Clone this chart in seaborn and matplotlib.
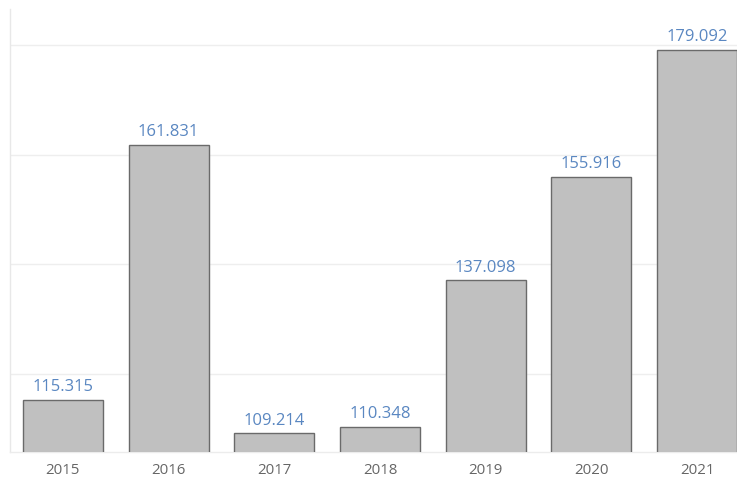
import matplotlib
matplotlib.use("Agg")
import matplotlib.pyplot as plt
import seaborn as sns
import pandas as pd
import numpy as np

years = ["2015", "2016", "2017", "2018", "2019", "2020", "2021"]
values = [115.315, 161.831, 109.214, 110.348, 137.098, 155.916, 179.092]
label_texts = ["115.315", "161.831", "109.214", "110.348", "137.098", "155.916", "179.092"]
y_ticks = [120, 140, 160, 180]

sns.set_style("white")
plt.rcParams['font.family'] = ['Open Sans', 'DejaVu Sans']

df = pd.DataFrame({"year": years, "value": values})

fig = plt.figure(figsize=(7.37, 4.82), dpi=100)
ax_left = 10 / 737
ax_bottom = (482 - 452) / 482
ax_w = (750 - 10) / 737
ax_h = (452 - 9) / 482
ax = fig.add_axes([ax_left, ax_bottom, ax_w, ax_h])

sns.barplot(data=df, x="year", y="value", color="#c0c0c0", saturation=1,
            width=0.757, edgecolor="#6a6a6a", linewidth=1.0, ax=ax, zorder=3)

ax.set_xlim(-0.5, 6.5)
ax.set_ylim(105.84, 186.54)
ax.set_yticks(y_ticks)
ax.set_yticklabels([])
ax.tick_params(axis='y', length=0)
ax.yaxis.grid(True, color="#eeeeee", linewidth=1.0, zorder=0)
ax.set_axisbelow(True)

ax.set_xlabel("")
ax.set_ylabel("")
ax.tick_params(axis='x', which='major', length=0, pad=8, labelsize=10.8, labelcolor="#666666")
ax.set_xticks(np.arange(0.5, 6.5, 1.0), minor=True)
ax.tick_params(axis='x', which='minor', length=6, width=0.8, color="#e6e6e6", direction='out')

for s in ["top", "right"]:
    ax.spines[s].set_visible(False)
ax.spines["left"].set_color("#e8e8e8")
ax.spines["left"].set_linewidth(1.0)
ax.spines["bottom"].set_color("#ececec")
ax.spines["bottom"].set_linewidth(1.0)

for i, (v, t) in enumerate(zip(values, label_texts)):
    ax.annotate(t, (i, v), xytext=(0, 3.5), textcoords="offset points",
                ha="center", va="bottom", fontsize=12, color="#5a87c1", zorder=5)

fig.savefig("out.png", dpi=100)
